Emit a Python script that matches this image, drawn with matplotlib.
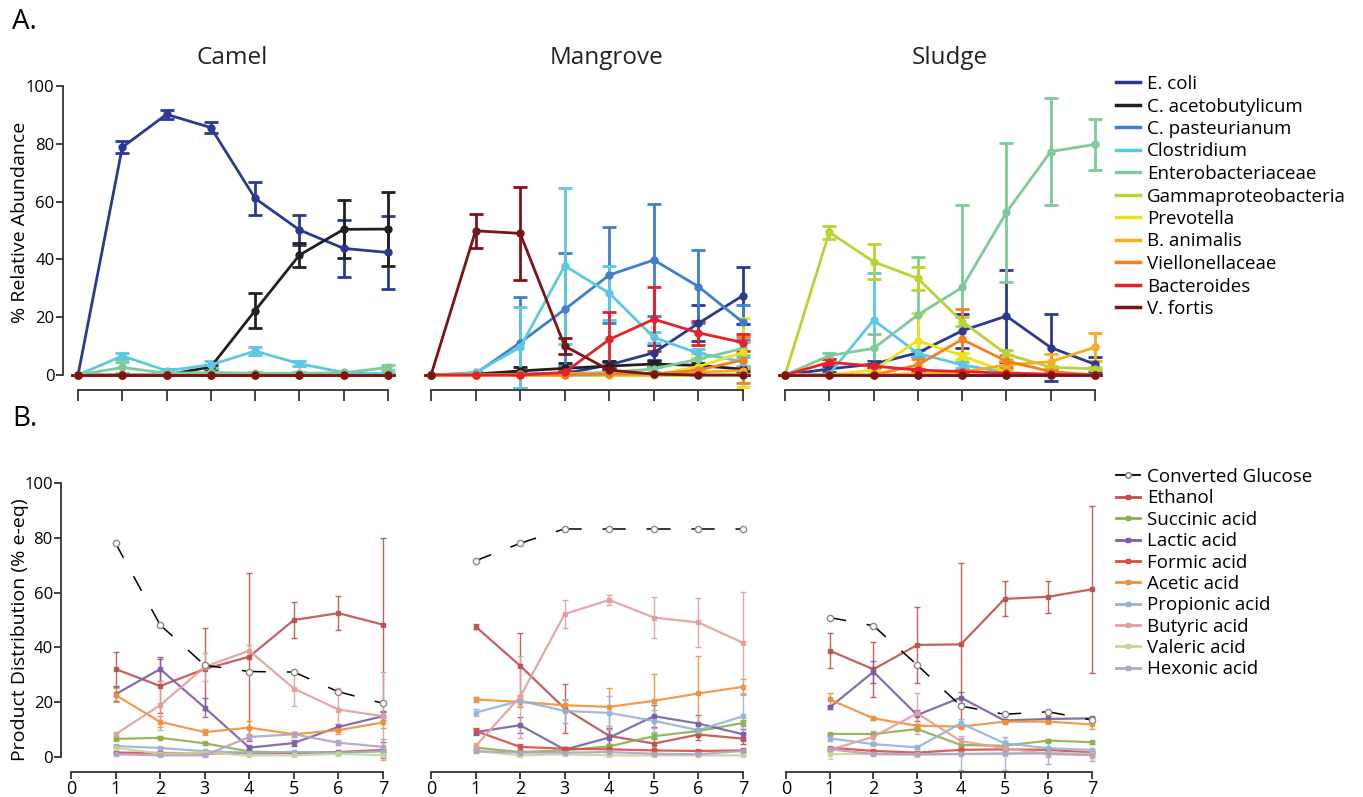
import numpy as np
import matplotlib
matplotlib.use("Agg")
import matplotlib.pyplot as plt
from matplotlib.lines import Line2D

plt.rcParams['font.family'] = ['Open Sans', 'DejaVu Sans']
plt.rcParams['lines.scale_dashes'] = False

W, H = 1363, 797

sites = ["Camel", "Mangrove", "Sludge"]
days = [0, 1, 2, 3, 4, 5, 6, 7]
prod_days = [1, 2, 3, 4, 5, 6, 7]

# --- community composition (% relative abundance) ---
taxa = ["E. coli", "C. acetobutylicum", "C. pasteurianum", "Clostridium",
        "Enterobacteriaceae", "Gammaproteobacteria", "Prevotella",
        "B. animalis", "Viellonellaceae", "Bacteroides", "V. fortis"]
taxa_colors = ["#2b3990", "#231f20", "#3f7fcb", "#5cc8e2", "#7ccb98",
               "#b8d433", "#e9e21d", "#f8ab1e", "#f47f22", "#e8202a", "#7a1517"]
Z = [0] * 8

camel_mean = [
    [0, 78.8, 90.2, 85.6, 61.1, 50.2, 43.8, 42.4],
    [0, 0, 0, 2.8, 22.3, 41.5, 50.4, 50.5],
    Z,
    [0, 6.6, 1.5, 3.5, 8.3, 3.9, 0.9, 0.4],
    [0, 2.6, 0.6, 0.9, 0.6, 0.6, 0.8, 2.6],
    Z, Z, Z, Z, Z, Z,
]
camel_err = [
    [0, 2, 1.5, 1.8, 5.8, 5.3, 10, 12.7],
    [0, 0, 0, 0.8, 6.2, 4.3, 10, 12.8],
    Z,
    [0, 1, 0.5, 1.2, 1.5, 0.9, 0.3, 0.3],
    [0, 2, 0.3, 0.3, 0.3, 0.3, 0.3, 1],
    Z, Z, Z, Z, Z, Z,
]

mangrove_mean = [
    [0, 0, 0.3, 0.5, 3.5, 7.7, 17.9, 27.5],
    [0, 0.3, 1.4, 2.3, 3.1, 3.8, 3.3, 2.0],
    [0, 0.5, 11.2, 22.7, 34.6, 39.8, 30.6, 18.2],
    [0, 0.9, 9.6, 37.8, 28.3, 13.0, 7.5, 4.6],
    [0, 0, 0.2, 0.5, 0.9, 2.1, 5.5, 9.2],
    Z,
    [0, 0, 0, 0, 0, 0, 2.9, 7.8],
    [0, 0, 0, 0.3, 0.3, 0.3, 1.0, 1.5],
    [0, 0, 0, 0, 0.3, 0.3, 1.7, 5.2],
    [0, 0, 0, 0.9, 12.3, 19.3, 14.6, 11.2],
    [0, 49.9, 49.0, 10.0, 1.7, 0.3, 0, 0],
]
mangrove_err = [
    [0, 0, 0.3, 0.5, 1, 2.6, 6.3, 9.8],
    [0, 0, 1.5, 1.7, 1.7, 1, 1, 0.5],
    [0, 0.3, 15.7, 19.6, 16.5, 19.4, 12.7, 6],
    [0, 0.3, 14, 27, 9.4, 2, 1.5, 1.5],
    [0, 0, 0, 0.3, 0.5, 1, 2, 2.3],
    Z,
    [0, 0, 0, 0, 0, 0, 3, 12],
    [0, 0, 0, 0, 0, 0, 0.5, 1],
    [0, 0, 0, 0, 0, 0, 1, 8],
    [0, 0, 0, 0.5, 9.6, 11, 4.2, 3],
    [0, 5.8, 16, 2.8, 0.5, 0, 0, 0],
]

sludge_mean = [
    [0, 2.1, 3.8, 7.7, 15.3, 20.4, 9.5, 3.7],
    Z, Z,
    [0, 0.3, 19.0, 7.5, 3.5, 0.9, 0, 0],
    [0, 6.7, 9.2, 20.8, 30.3, 56.3, 77.3, 79.8],
    [0, 49.4, 39.2, 33.4, 18.5, 7.2, 2.7, 2.1],
    [0, 0, 1.7, 11.9, 6.7, 0.9, 0, 0],
    [0, 0, 0, 0.5, 1, 3.5, 4.6, 9.6],
    [0, 0, 0, 3.5, 12.3, 4.8, 1.2, 0],
    [0, 4.4, 3.1, 1.7, 1.2, 0.6, 0.3, 0],
    Z,
]
sludge_err = [
    [0, 1, 1, 1, 5.8, 16, 11.7, 2.7],
    Z, Z,
    [0, 0, 16.4, 1, 1, 0.3, 0, 0],
    [0, 1, 5, 20, 28.5, 24, 18.5, 8.8],
    [0, 2.3, 6, 4, 1.5, 1.5, 0.5, 0.5],
    [0, 0, 0.5, 9.7, 1, 0.3, 0, 0],
    [0, 0, 0, 0.3, 0.5, 1.5, 2.6, 4.8],
    [0, 0, 0, 2, 10.7, 2, 0.5, 0],
    [0, 1, 0.5, 0.3, 0.3, 0.2, 0, 0],
    Z,
]

# --- fermentation products (% e-eq) ---
products = ["Ethanol", "Succinic acid", "Lactic acid", "Formic acid",
            "Acetic acid", "Propionic acid", "Butyric acid", "Valeric acid",
            "Hexonic acid"]
product_colors = ["#c0504d", "#8db04a", "#7b5ea7", "#dc4b45", "#f0903a",
                  "#95b3d7", "#e0a09e", "#c3d69b", "#b3a2c7"]

camel_glucose = [78.0, 48.2, 33.5, 31.2, 31.0, 23.8, 19.6]
mangrove_glucose = [71.6, 78.0, 83.3, 83.3, 83.3, 83.3, 83.3]
sludge_glucose = [50.9, 47.9, 33.6, 18.6, 15.6, 16.5, 13.5]

camel_prod = [
    [32.1, 25.9, 32.1, 36.6, 50.0, 52.5, 48.3],
    [6.6, 7.0, 5.0, 2.0, 1.5, 1.6, 2.2],
    [22.9, 32.1, 18.0, 3.4, 5.1, 11.0, 14.9],
    [1.6, 1.5, 1.3, 1.3, 1.5, 1.8, 2.6],
    [22.6, 12.8, 9.1, 10.7, 8.3, 9.8, 12.6],
    [4.0, 3.3, 2.1, 1.6, 1.8, 1.6, 2.1],
    [8.3, 18.9, 32.9, 38.8, 25.0, 17.3, 14.9],
    [3.4, 1.2, 1.6, 0.6, 0.6, 1.2, 0.6],
    [1.0, 0.6, 0.6, 7.3, 8.3, 5.2, 3.7],
]
camel_prod_err = [
    [6.3, 10, 14.9, 30.7, 6.7, 6.1, 31.6],
    [0.5, 0.5, 0.5, 0.5, 0.3, 0.3, 0.5],
    [2.5, 4.3, 3.5, 1, 1, 1, 1.5],
    [0.3, 0.3, 0.3, 0.3, 0.3, 0.5, 3],
    [2.5, 2, 1, 2.5, 1, 1.5, 2],
    [0.5, 0.5, 0.5, 0.5, 0.5, 0.5, 0.5],
    [0.5, 9, 5, 2, 6.5, 8, 16],
    [0.5, 0.3, 0.3, 0.3, 0.3, 0.3, 0.3],
    [0.3, 0.3, 0.3, 1, 1, 1, 3],
]

mangrove_prod = [
    [47.6, 33.3, 17.7, 7.7, 4.9, 8.2, 6.7],
    [3.4, 1.8, 2.4, 3.9, 7.6, 9.5, 12.4],
    [9.1, 11.6, 2.7, 7.1, 14.9, 12.2, 8.3],
    [9.5, 3.7, 3.0, 2.8, 2.4, 2.2, 2.4],
    [21.0, 20.1, 18.9, 18.3, 20.5, 23.2, 25.6],
    [16.2, 20.5, 16.8, 16.1, 13.2, 9.8, 14.9],
    [4.0, 22.0, 52.2, 57.3, 50.9, 49.1, 41.7],
    [2.2, 0.6, 1.0, 0.6, 0.6, 0.6, 0.6],
    [2.1, 1.6, 1.6, 1.8, 1.2, 1.0, 2.2],
]
mangrove_prod_err = [
    [1, 12, 9, 3, 2, 2, 2],
    [0.5, 0.5, 0.5, 0.5, 1, 1, 1],
    [1, 3, 1, 3, 4, 3, 2],
    [1, 1, 0.5, 0.5, 0.5, 0.5, 0.5],
    [1, 2, 2, 7, 9.8, 13.6, 3],
    [1.2, 2, 4.5, 6, 4, 2, 8],
    [1, 15, 5.1, 1.8, 7.4, 8.8, 18.4],
    [0.5, 0.3, 0.3, 0.3, 0.3, 0.3, 0.3],
    [0.3, 0.3, 0.3, 0.3, 0.3, 0.3, 0.5],
]

sludge_prod = [
    [38.8, 32.0, 40.9, 41.1, 57.7, 58.5, 61.2],
    [8.4, 8.4, 10.2, 4.4, 4.1, 6.0, 5.4],
    [18.1, 31.1, 15.3, 21.7, 13.3, 13.9, 14.1],
    [3.4, 2.2, 1.6, 2.6, 2.8, 2.6, 1.6],
    [21.0, 14.1, 11.4, 11.1, 12.9, 12.9, 11.9],
    [6.8, 4.7, 3.5, 12.3, 5.0, 3.2, 2.6],
    [2.6, 7.4, 15.9, 5.8, 3.2, 1.1, 0.7],
    [1.1, 1.1, 0.7, 1.1, 1.1, 1.6, 1.1],
    [2.8, 1.1, 1.1, 1.1, 1.3, 1.3, 0.7],
]
sludge_prod_err = [
    [6.3, 10, 14, 29.6, 6.4, 5.9, 30.4],
    [0.5, 0.5, 0.5, 0.5, 0.5, 0.5, 0.5],
    [0.5, 4, 2, 2, 0.5, 1, 0.5],
    [0.3, 0.3, 0.3, 0.3, 0.3, 0.3, 0.3],
    [2.4, 0.5, 0.5, 0.5, 0.5, 0.5, 1.5],
    [0.8, 0.5, 0.5, 1.5, 1, 0.5, 0.5],
    [0.5, 2, 7.5, 2, 1, 1, 1],
    [2, 0.3, 0.3, 0.3, 0.3, 0.3, 0.3],
    [0.5, 0.3, 0.3, 6, 6, 4, 2],
]

top_means = [camel_mean, mangrove_mean, sludge_mean]
top_errs = [camel_err, mangrove_err, sludge_err]
bot_glucose = [camel_glucose, mangrove_glucose, sludge_glucose]
bot_means = [camel_prod, mangrove_prod, sludge_prod]
bot_errs = [camel_prod_err, mangrove_prod_err, sludge_prod_err]

XLIM = (-0.4, 7.3)
YLIM = (-12, 103)


def axes_rect(x0, x7, y0, y100):
    # pixel anchors of x=0, x=7, y=0, y=100 -> figure fraction rect
    sx = (x7 - x0) / 7.0
    sy = (y0 - y100) / 100.0
    left = x0 + XLIM[0] * sx
    right = x0 + XLIM[1] * sx
    top = y0 - YLIM[1] * sy
    bottom = y0 - YLIM[0] * sy
    return [left / W, 1 - bottom / H, (right - left) / W, (bottom - top) / H]


fig = plt.figure(figsize=(W / 100, H / 100), dpi=100)

top_x = [(78, 388), (431, 743), (785, 1095)]
bot_x = [(71, 383), (431, 743), (786, 1092)]
title_x = [3.48, 3.93, 3.72]
axis_col = "#333333"


def style_axes(ax, show_y, yspine_x, xspine_y, xlabels):
    ax.set_xlim(*XLIM)
    ax.set_ylim(*YLIM)
    ax.patch.set_visible(False)
    for s in ["top", "right"]:
        ax.spines[s].set_visible(False)
    ax.spines["bottom"].set_position(("data", xspine_y))
    ax.spines["bottom"].set_bounds(0, 7)
    ax.spines["bottom"].set_color(axis_col)
    ax.spines["bottom"].set_linewidth(1.3)
    ax.set_xticks(range(8))
    if xlabels:
        ax.tick_params(axis="x", direction="out", length=5, width=1.3,
                       color=axis_col, labelsize=13, pad=1)
    else:
        ax.tick_params(axis="x", direction="out", length=8, width=1.3,
                       color=axis_col)
        ax.set_xticklabels([])
    if show_y:
        ax.spines["left"].set_position(("data", yspine_x))
        ax.spines["left"].set_bounds(0, 100)
        ax.spines["left"].set_color(axis_col)
        ax.spines["left"].set_linewidth(1.3)
        ax.set_yticks([0, 20, 40, 60, 80, 100])
        ax.tick_params(axis="y", direction="out", length=5, width=1.3,
                       color=axis_col, labelsize=12, pad=1)
    else:
        ax.spines["left"].set_visible(False)
        ax.set_yticks([])


# community panels
for k, site in enumerate(sites):
    ax = fig.add_axes(axes_rect(top_x[k][0], top_x[k][1], 375, 86))
    style_axes(ax, k == 0, -0.34, -5.2, False)
    for i, name in enumerate(taxa):
        ax.errorbar(days, top_means[k][i], yerr=top_errs[k][i],
                    color=taxa_colors[i], lw=2, marker="o", ms=5,
                    capsize=5, capthick=2, elinewidth=2, zorder=2 + i * 0.01)
    ax.text(title_x[k], 109.7, site, fontsize=17.5, ha="center", va="center",
            color="#222222", clip_on=False)

# product panels
for k, site in enumerate(sites):
    ax = fig.add_axes(axes_rect(bot_x[k][0], bot_x[k][1], 757, 483))
    style_axes(ax, k == 0, -0.22, -5.5, True)
    for i, name in enumerate(products):
        ax.errorbar(prod_days, bot_means[k][i], yerr=bot_errs[k][i],
                    color=product_colors[i], lw=1.6, marker="s", ms=3.5,
                    capsize=2, capthick=1, elinewidth=1, alpha=0.9)
    g = bot_glucose[k]
    # dashed segments restart at every sampling point
    for j in range(len(prod_days) - 1):
        ax.plot(prod_days[j:j + 2], g[j:j + 2], color="black", lw=1.1,
                dashes=(12, 15), zorder=5)
    ax.plot(prod_days, g, ls="none", marker="o", ms=4.5, mfc="white",
            mec="#8a8a8a", mew=1, zorder=6)

fig.text(20 / W, 1 - 222 / H, "% Relative Abundance", fontsize=14,
         rotation=90, ha="center", va="center")
fig.text(20 / W, 1 - 630 / H, "Product Distribution (% e-eq)", fontsize=14,
         rotation=90, ha="center", va="center")

fig.text(12 / W, 1 - 22 / H, "A.", fontsize=20, va="center", ha="left")
fig.text(12 / W, 1 - 419 / H, "B.", fontsize=20, va="center", ha="left")

top_handles = [Line2D([], [], color=c, lw=2.5) for c in taxa_colors]
fig.legend(top_handles, taxa, loc="upper left",
           bbox_to_anchor=(1116 / W, 1 - 75 / H), frameon=False,
           fontsize=13.5, handlelength=1.3, handletextpad=0.35,
           labelspacing=0.24, borderpad=0, borderaxespad=0)

bot_handles = [Line2D([], [], color="black", lw=1.3, marker="o", ms=4,
                      mfc="white", mec="#777777", markevery=[1])]
bot_handles += [Line2D([], [], color=c, lw=2, marker="s", ms=3.5)
                for c in product_colors]
fig.legend(bot_handles, ["Converted Glucose"] + products, loc="upper left",
           bbox_to_anchor=(1116 / W, 1 - 468 / H), frameon=False,
           fontsize=13.5, handlelength=1.3, handletextpad=0.35,
           labelspacing=0.18, borderpad=0, borderaxespad=0)

fig.savefig("out.png", dpi=100)
